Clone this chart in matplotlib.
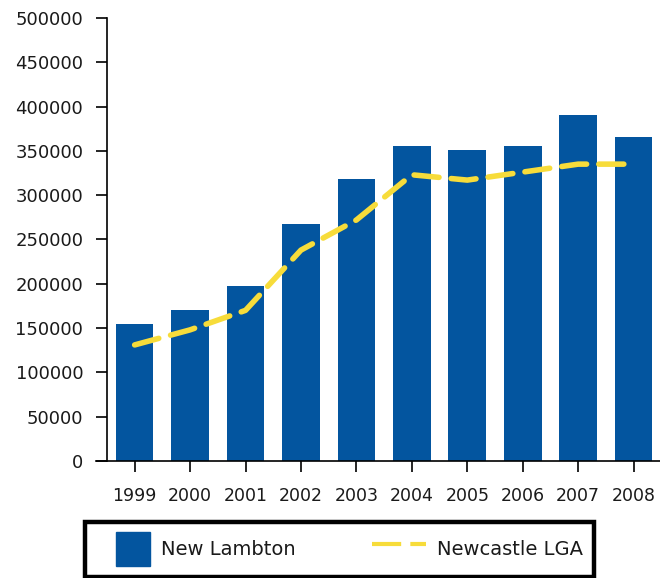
import matplotlib
matplotlib.use("Agg")
import matplotlib.pyplot as plt
from matplotlib.patches import Patch, Rectangle
from matplotlib.lines import Line2D
from matplotlib.legend_handler import HandlerPatch

years = ["1999", "2000", "2001", "2002", "2003", "2004", "2005", "2006", "2007", "2008"]
new_lambton = [155000, 170000, 198000, 267000, 318000, 355000, 351000, 355000, 391000, 366000]
newcastle_lga = [131000, 148000, 170000, 238000, 272000, 323000, 317000, 326000, 335000, 335000]
y_ticks = [0, 50000, 100000, 150000, 200000, 250000, 300000, 350000, 400000, 450000, 500000]

plt.rcParams['font.family'] = ['DejaVu Sans']

bar_color = "#03559f"
line_color = "#f7dc3a"
text_color = "#1a1a1a"

fig = plt.figure(figsize=(6.6, 5.78), dpi=100)
ax = fig.add_axes([0.162, 0.2024, 0.84, 0.7666])

x = list(range(len(years)))
ax.bar(x, new_lambton, width=0.68, color=bar_color, zorder=2)
ax.plot(x, newcastle_lga, color=line_color, linewidth=4, linestyle=(0, (4.5, 2.2)),
        solid_capstyle='round', dash_capstyle='round', zorder=3)

ax.set_xlim(-0.5, 9.5)
ax.set_ylim(0, 500000)
ax.set_yticks(y_ticks)
ax.set_yticklabels([str(v) for v in y_ticks], fontsize=13, color=text_color)
ax.set_xticks(x)
ax.set_xticklabels(years, fontsize=12.5, color=text_color)

for s in ["top", "right"]:
    ax.spines[s].set_visible(False)
ax.spines["left"].set_linewidth(1.2)
ax.spines["bottom"].set_linewidth(1.2)
ax.spines["bottom"].set_bounds(-0.7, 9.5)
ax.tick_params(axis='y', direction='out', length=8, width=1.2, pad=9)
ax.tick_params(axis='x', direction='out', length=8, width=1.2, pad=11)


def square_patch(legend, orig_handle, xdescent, ydescent, width, height, fontsize):
    side = height
    return Rectangle((width - side - xdescent, -ydescent), side, height)


handles = [Patch(facecolor=bar_color, edgecolor=bar_color),
           Line2D([0], [0], color=line_color, linewidth=3, linestyle=(0, (7, 2.2, 3.8, 10)))]
leg = fig.legend(handles, ["New Lambton", "Newcastle LGA"], loc='center',
                 bbox_to_anchor=(0.5144, 0.0495), ncol=2,
                 frameon=True, fancybox=False, edgecolor='black', framealpha=1,
                 fontsize=14, handlelength=2.8, handleheight=2.3, handletextpad=0.57,
                 columnspacing=3.9, borderaxespad=0, borderpad=0.55,
                 handler_map={Patch: HandlerPatch(patch_func=square_patch)})
leg.get_frame().set_linewidth(3.2)
for t in leg.get_texts():
    t.set_color(text_color)

fig.savefig("out.png", dpi=100)
